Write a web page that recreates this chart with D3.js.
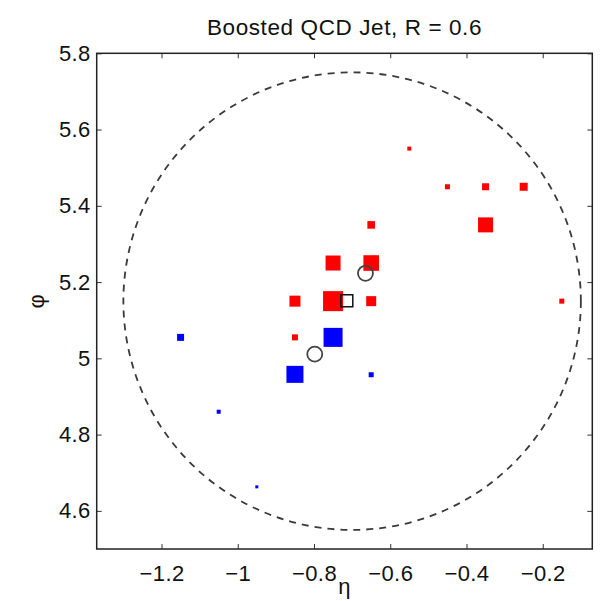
<!DOCTYPE html>
<html lang="en">
<head>
  <meta charset="UTF-8">
  <title>Boosted QCD Jet</title>
  <script src="https://d3js.org/d3.v7.min.js"></script>
  <style>
    body {
      margin: 0;
      padding: 0;
      background: #fff;
      font-family: "Liberation Sans", Arial, sans-serif;
    }
    .tick-label {
      font-size: 22px;
      letter-spacing: 0.4px;
      fill: #111;
    }
    .title {
      font-size: 22.5px;
      letter-spacing: 0.6px;
      fill: #111;
    }
  </style>
</head>
<body>
  <div id="chart"></div>
  <script>
    // calorimeter cells (eta, phi) and a relative energy weight (0..1)
    const redEta = [-0.55, -0.45, -0.35, -0.25, -0.35, -0.65, -0.75, -0.65, -0.85, -0.75, -0.65, -0.15, -0.85];
    const redPhi = [5.55, 5.45, 5.45, 5.45, 5.35, 5.35, 5.25, 5.25, 5.15, 5.15, 5.15, 5.15, 5.055];
    const redW   = [0.2, 0.25, 0.35, 0.4, 0.75, 0.38, 0.75, 0.78, 0.55, 1.0, 0.5, 0.25, 0.3];

    const blueEta = [-0.75, -0.85, -0.65, -1.15, -1.05, -0.95];
    const bluePhi = [5.055, 4.958, 4.957, 5.055, 4.86, 4.663];
    const blueW   = [0.95, 0.85, 0.25, 0.35, 0.2, 0.15];

    // subjet axes (open circles) and jet axis (open square)
    const subEta = [-0.665, -0.798];
    const subPhi = [5.223, 5.011];
    const jetEta = [-0.714];
    const jetPhi = [5.151];

    // jet cone
    const coneEta = -0.7, conePhi = 5.15, coneR = 0.6;

    const xTicks = [-1.2, -1, -0.8, -0.6, -0.4, -0.2];
    const yTicks = [4.6, 4.8, 5, 5.2, 5.4, 5.6, 5.8];

    const width = 611, height = 601;
    const margin = { top: 53.3, right: 18.7, bottom: 52, left: 96.7 };

    const svg = d3.select("#chart").append("svg")
      .attr("width", width)
      .attr("height", height);

    const x = d3.scaleLinear().domain([-1.37, -0.07])
      .range([margin.left, width - margin.right]);
    const y = d3.scaleLinear().domain([4.5, 5.8])
      .range([height - margin.bottom, margin.top]);
    const side = d3.scaleLinear().domain([0, 1]).range([0, 20]);

    const fmt = d => d3.format("")(d).replace("-", "\u2212");

    // dashed cone
    svg.append("ellipse")
      .attr("cx", x(coneEta))
      .attr("cy", y(conePhi))
      .attr("rx", x(coneEta + coneR) - x(coneEta))
      .attr("ry", y(conePhi) - y(conePhi + coneR))
      .attr("fill", "none")
      .attr("stroke", "#3a3a3a")
      .attr("stroke-width", 1.8)
      .attr("stroke-dasharray", "7,6");

    const red = redEta.map((e, i) => ({ eta: e, phi: redPhi[i], w: redW[i] }));
    const blue = blueEta.map((e, i) => ({ eta: e, phi: bluePhi[i], w: blueW[i] }));

    function cells(data, color) {
      svg.append("g").selectAll("rect")
        .data(data)
        .enter().append("rect")
        .attr("x", d => x(d.eta) - side(d.w) / 2)
        .attr("y", d => y(d.phi) - side(d.w) / 2)
        .attr("width", d => side(d.w))
        .attr("height", d => side(d.w))
        .attr("fill", color);
    }
    cells(red, "#ff0000");
    cells(blue, "#0000ff");

    // subjet circles
    svg.append("g").selectAll("circle")
      .data(subEta.map((e, i) => ({ eta: e, phi: subPhi[i] })))
      .enter().append("circle")
      .attr("cx", d => x(d.eta))
      .attr("cy", d => y(d.phi))
      .attr("r", 7.5)
      .attr("fill", "none")
      .attr("stroke", "#444")
      .attr("stroke-width", 1.8);

    // jet axis square
    svg.append("g").selectAll("rect")
      .data(jetEta.map((e, i) => ({ eta: e, phi: jetPhi[i] })))
      .enter().append("rect")
      .attr("x", d => x(d.eta) - 6)
      .attr("y", d => y(d.phi) - 6)
      .attr("width", 12)
      .attr("height", 12)
      .attr("fill", "none")
      .attr("stroke", "#111")
      .attr("stroke-width", 1.5);

    // axes: ticks inside, box all round
    const x0 = x.range()[0], x1 = x.range()[1];
    const y0 = y.range()[0], y1 = y.range()[1];

    const gx = svg.append("g").attr("transform", `translate(0,${y0})`)
      .call(d3.axisBottom(x).tickValues(xTicks).tickSize(-5).tickPadding(16).tickFormat(fmt));
    svg.append("g").attr("transform", `translate(0,${y1})`)
      .call(d3.axisTop(x).tickValues(xTicks).tickSize(-5).tickFormat(""));
    const gy = svg.append("g").attr("transform", `translate(${x0},0)`)
      .call(d3.axisLeft(y).tickValues(yTicks).tickSize(-5).tickPadding(6).tickFormat(fmt));
    svg.append("g").attr("transform", `translate(${x1},0)`)
      .call(d3.axisRight(y).tickValues(yTicks).tickSize(-5).tickFormat(""));

    svg.selectAll(".domain").remove();
    svg.selectAll(".tick line").attr("stroke", "#333").attr("stroke-width", 1);
    svg.selectAll(".tick text").attr("class", "tick-label")
      .attr("font-family", null).attr("font-size", null);
    gx.selectAll(".tick text").attr("dy", "0.71em");

    svg.append("rect")
      .attr("x", x0).attr("y", y1)
      .attr("width", x1 - x0).attr("height", y0 - y1)
      .attr("fill", "none")
      .attr("stroke", "#222")
      .attr("stroke-width", 1.5);

    // labels
    svg.append("text")
      .attr("class", "title")
      .attr("x", (x0 + x1) / 2)
      .attr("y", 35)
      .attr("text-anchor", "middle")
      .text("Boosted QCD Jet, R = 0.6");

    svg.append("text")
      .attr("class", "tick-label")
      .attr("x", (x0 + x1) / 2)
      .attr("y", 594)
      .attr("text-anchor", "middle")
      .text("\u03b7");

    svg.append("text")
      .attr("class", "tick-label")
      .attr("transform", `translate(44,${(y0 + y1) / 2}) rotate(-90)`)
      .attr("text-anchor", "middle")
      .text("\u03c6");
  </script>
</body>
</html>
